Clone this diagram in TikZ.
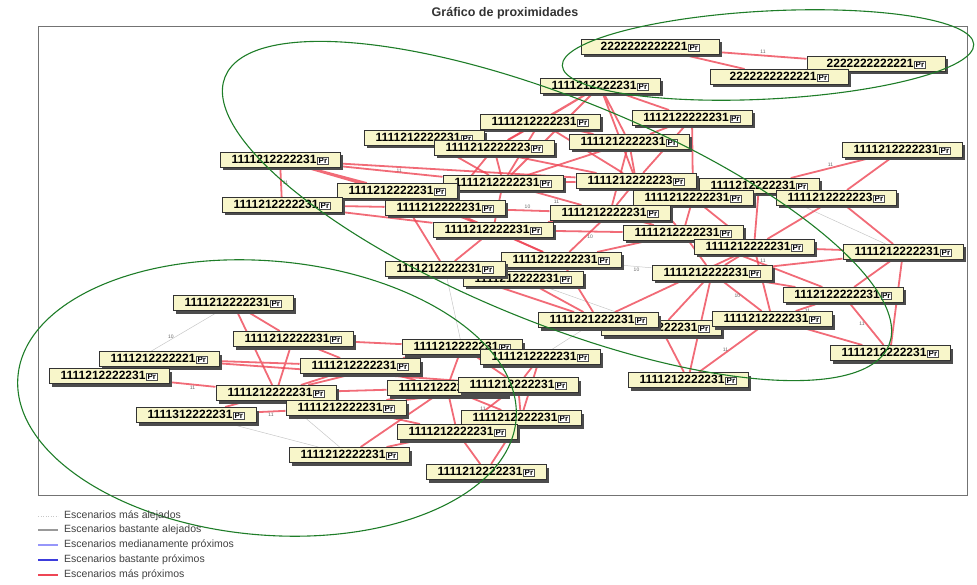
\documentclass[tikz,border=0pt]{standalone}
\usepackage{fontspec}
\setmainfont{Liberation Sans}
\usetikzlibrary{backgrounds}

\definecolor{nearred}{RGB}{238,70,85}
\definecolor{midblue}{RGB}{150,150,250}
\definecolor{closeblue}{RGB}{60,60,220}
\definecolor{zonegreen}{RGB}{30,125,40}
\definecolor{boxfill}{RGB}{248,246,202}

% petite etiquette "Pr" a la fin de chaque scenario
\newcommand{\escn}[1]{#1\kern1pt{\setlength{\fboxsep}{0.8pt}\fcolorbox{black!70}{white}{\fontsize{8}{8}\selectfont Pr}}}

\begin{document}
\begin{tikzpicture}[
    x=1pt, y=-1pt,
    scn/.style={rectangle, draw=black!80, line width=1pt, fill=boxfill,
        minimum width=120pt, minimum height=15pt, inner sep=1pt,
        font=\bfseries\fontsize{12}{12}\selectfont,
        preaction={fill=black!70, transform canvas={xshift=3pt, yshift=-3pt}}},
    scnw/.style={scn, minimum width=138pt},
    near/.style={line width=1.8pt, draw=nearred, draw opacity=0.8},
    far/.style={line width=0.5pt, draw=black!22},
    num/.style={font=\fontsize{5}{5}\selectfont, text=black!60, inner sep=1pt},
    zone/.style={draw=zonegreen, line width=1.1pt},
    frame/.style={draw=black!55, line width=1pt},
    legend/.style={anchor=west, inner sep=0pt, text=black!75, font=\fontsize{10.5}{11}\selectfont}
]
\useasboundingbox (0,0) rectangle (977,585);

% Titre et cadre
\node[text=black!80] (title) at (505,13) {\bfseries\fontsize{12.5}{13}\selectfont Gráfico de proximidades};
\draw[frame] (38,27) rectangle (967,495);

% Groupe en haut a droite
\node[scnw] (t1) at (650,47) {\escn{2222222222221}};
\node[scnw] (t2) at (876,64) {\escn{2222222222221}};
\node[scnw] (t3) at (779,77) {\escn{2222222222221}};

% Groupe central
\node[scn] (m1) at (600,86) {\escn{1111212222231}};
\node[scn] (m2) at (540,122) {\escn{1111212222231}};
\node[scn] (m3) at (424,138) {\escn{1111212222231}};
\node[scn] (m4) at (692,118) {\escn{1112122222231}};
\node[scn] (m5) at (629,142) {\escn{1111212222231}};
\node[scn] (m6) at (494,148) {\escn{1111212222223}};
\node[scn] (m7) at (280,160) {\escn{1111212222231}};
\node[scn] (m8) at (902,150) {\escn{1111212222231}};
\node[scn] (m9) at (503,183) {\escn{1111212222231}};
\node[scn] (m10) at (397,191) {\escn{1111212222231}};
\node[scn] (m11) at (636,181) {\escn{1111212222223}};
\node[scn] (m12) at (759,186) {\escn{1111212222231}};
\node[scn] (m13) at (693,198) {\escn{1111212222231}};
\node[scn] (m14) at (836,198) {\escn{1111212222223}};
\node[scn] (m15) at (282,205) {\escn{1111212222231}};
\node[scn] (m16) at (445,208) {\escn{1111212222231}};
\node[scn] (m17) at (610,213) {\escn{1111212222231}};
\node[scn] (m18) at (493,230) {\escn{1111212222231}};
\node[scn] (m19) at (683,233) {\escn{1111212222231}};
\node[scn] (m20) at (754,247) {\escn{1111212222231}};
\node[scn] (m21) at (903,252) {\escn{1111212222231}};
\node[scn] (m24) at (523,279) {\escn{1111212222231}};
\node[scn] (m22) at (561,260) {\escn{1111212222231}};
\node[scn] (m23) at (445,269) {\escn{1111212222231}};
\node[scn] (m25) at (712,273) {\escn{1111212222231}};
\node[scn] (m26) at (843,295) {\escn{1112122222231}};
\node[scn] (m28) at (661,328) {\escn{1111212222231}};
\node[scn] (m27) at (598,320) {\escn{1111221222231}};
\node[scn] (m29) at (772,319) {\escn{1111212222231}};
\node[scn] (m30) at (890,353) {\escn{1111212222231}};
\node[scn] (m31) at (688,380) {\escn{1111212222231}};

% Groupe en bas a gauche
\node[scn] (b1) at (233,303) {\escn{1111212222231}};
\node[scn] (b2) at (293,339) {\escn{1111212222231}};
\node[scn] (b3) at (159,359) {\escn{1111212222221}};
\node[scn] (b4) at (109,376) {\escn{1111212222231}};
\node[scn] (b5) at (360,366) {\escn{1111212222231}};
\node[scn] (b6) at (276,393) {\escn{1111212222231}};
\node[scn] (b7) at (196,415) {\escn{1111312222231}};
\node[scn] (b8) at (346,408) {\escn{1111212222231}};
\node[scn] (b9) at (349,455) {\escn{1111212222231}};
\node[scn] (b10) at (462,347) {\escn{1111212222231}};
\node[scn] (b11) at (540,357) {\escn{1111212222231}};
\node[scn] (b12) at (447,388) {\escn{1111212222231}};
\node[scn] (b13) at (518,385) {\escn{1111212222231}};
\node[scn] (b14) at (521,418) {\escn{1111212222231}};
\node[scn] (b15) at (457,432) {\escn{1111212222231}};
\node[scn] (b16) at (486,472) {\escn{1111212222231}};

% Liens
\begin{scope}[on background layer]
\draw[far] (b1) -- node[num, above] {10} (b4);
\draw[far] (b6) -- (b9) (b7) -- (b9) (m24) -- (m28) (m27) -- (b11) (m12) -- (m21) (m23) -- (b10);
\draw[far] (m22) -- node[num, below] {10} (m25);
\draw[near] (t1) -- node[num, above] {11} (t2);
\draw[near] (t1) -- (t3);
\draw[near] (m1) -- (m2) (m1) -- (m5) (m1) -- (m6) (m1) -- (m4) (m1) -- (m9) (m1) -- (m11);
\draw[near] (m2) -- (m5) (m2) -- (m9) (m2) -- (m6) (m2) -- (m11);
\draw[near] (m3) -- (m9) (m3) -- (m6) (m3) -- (m11);
\draw[near] (m4) -- node[num, above] {11} (m5);
\draw[near] (m4) -- (m11) (m4) -- (m13);
\draw[near] (m5) -- (m9) (m5) -- (m11) (m5) -- (m17);
\draw[near] (m6) -- (m9) (m6) -- (m16);
\draw[near] (m7) -- node[num, right] {11} (m15);
\draw[near] (m7) -- node[num, below, pos=0.25] {11} (m11);
\draw[near] (m7) -- (m10) (m7) -- (m16) (m7) -- (m9);
\draw[near] (m8) -- node[num, above] {11} (m12);
\draw[near] (m8) -- (m14);
\draw[near] (m9) -- node[num, below] {11} (m17);
\draw[near] (m9) -- (m18) (m9) -- (m11);
\draw[near] (m10) -- (m18) (m10) -- (m9) (m10) -- (m23);
\draw[near] (m11) -- (m13) (m11) -- (m12) (m11) -- (m17) (m11) -- (m19);
\draw[near] (m12) -- (m14) (m12) -- (m20) (m12) -- (m13);
\draw[near] (m13) -- (m19) (m13) -- (m17) (m13) -- (m20);
\draw[near] (m14) -- (m21) (m14) -- (m20);
\draw[near] (m15) -- (m16) (m15) -- (m18) (m15) -- (m9);
\draw[near] (m16) -- node[num, above] {10} (m17);
\draw[near] (m16) -- (m18) (m16) -- (m22);
\draw[near] (m17) -- node[num, right] {10} (m22);
\draw[near] (m17) -- (m19) (m17) -- (m18);
\draw[near] (m18) -- (m22) (m18) -- (m23) (m18) -- (m19);
\draw[near] (m19) -- (m20) (m19) -- (m25) (m19) -- (m22);
\draw[near] (m19) -- node[num, above] {11} (m26);
\draw[near] (m20) -- (m21) (m20) -- (m25) (m20) -- (m29) (m20) -- (m27);
\draw[near] (m21) -- (m26) (m21) -- (m30) (m21) -- (m25);
\draw[near] (m22) -- (m27) (m22) -- (m23) (m23) -- (m27) (m24) -- (m27);
\draw[near] (m25) -- node[num, left] {10} (m29);
\draw[near] (m25) -- (m28) (m25) -- (m26) (m25) -- (m31);
\draw[near] (m26) -- node[num, below] {11} (m29);
\draw[near] (m26) -- node[num, left] {11} (m30);
\draw[near] (m29) -- (m30) (m28) -- (m31);
\draw[near] (m29) -- node[num, left] {11} (m31);
\draw[near] (b1) -- (b2) (b1) -- (b6) (b2) -- (b6) (b2) -- (b10) (b3) -- (b5);
\draw[near] (b2) -- node[num, above] {11} (b5);
\draw[near] (b4) -- node[num, below] {11} (b6);
\draw[near] (b7) -- node[num, below] {11} (b8);
\draw[near] (b6) -- (b7) (b6) -- (b12) (b6) -- (b5) (b6) -- (b10);
\draw[near] (b8) -- (b15) (b8) -- (b13) (b8) -- (b12);
\draw[near] (b5) -- (b10) (b5) -- (b12) (b10) -- (b12);
\draw[near] (b10) -- node[num, above] {11} (b13);
\draw[near] (b11) -- (b14) (b11) -- (b13) (b12) -- (b15) (b12) -- (b14);
\draw[near] (b13) -- (b14) (b14) -- (b16) (b15) -- (b16) (b15) -- (b9) (b9) -- (b12) (b3) -- (b13);
\draw[near] (b13) -- node[num, left] {11} (b15);
\end{scope}

% Zones entourees
\draw[zone, rotate around={3:(768,55)}] (768,55) ellipse [x radius=206, y radius=44];
\draw[zone, rotate around={-22:(557,211)}] (557,211) ellipse [x radius=358, y radius=112];
\draw[zone, rotate around={-5:(267,398)}] (267,398) ellipse [x radius=250, y radius=137];

% Legende
\draw[far, dotted, line width=1pt] (38,516) -- (58,516);
\draw[line width=1.5pt, black!40] (38,530) -- (58,530);
\draw[line width=1.5pt, midblue] (38,545) -- (58,545);
\draw[line width=1.8pt, closeblue] (38,560) -- (58,560);
\draw[line width=1.8pt, nearred] (38,575) -- (58,575);
\node[legend] (l1) at (64,516) {Escenarios más alejados};
\node[legend] (l2) at (64,530) {Escenarios bastante alejados};
\node[legend] (l3) at (64,545) {Escenarios medianamente próximos};
\node[legend] (l4) at (64,560) {Escenarios bastante próximos};
\node[legend] (l5) at (64,575) {Escenarios más próximos};

\end{tikzpicture}
\end{document}
